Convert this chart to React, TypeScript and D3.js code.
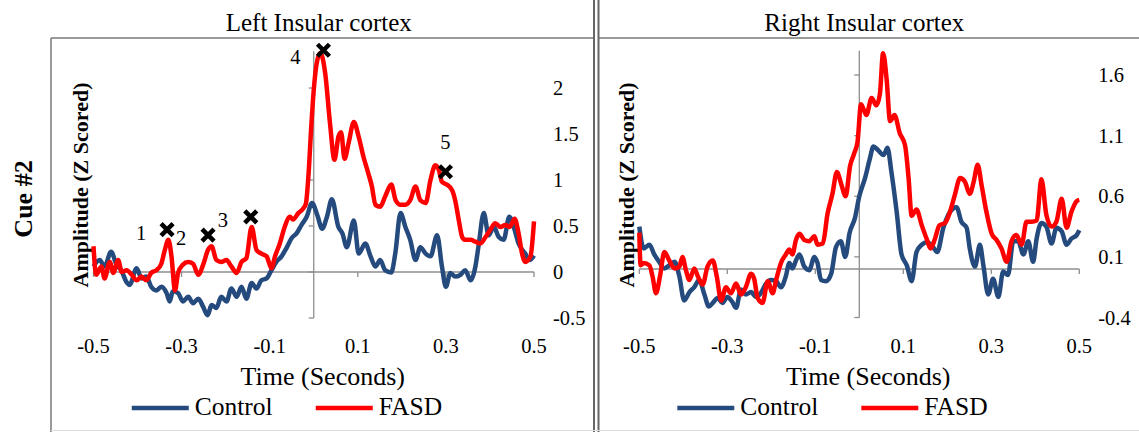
import React from 'react';
import * as d3 from 'd3';

// values: [time (s), amplitude (z)]
const timeTicks = [-0.5, -0.3, -0.1, 0.1, 0.3, 0.5];
const leftTicks = [-0.5, 0, 0.5, 1, 1.5, 2];
const rightTicks = [-0.4, 0.1, 0.6, 1.1, 1.6];
const seriesNames = ['Control', 'FASD'];

const leftControl: [number, number][] = [
  [-0.5, 0.06], [-0.486, 0.13], [-0.475, 0.06], [-0.46, 0.22], [-0.448, 0.08], [-0.437, 0.02],
  [-0.425, -0.11], [-0.418, -0.14], [-0.402, 0.04], [-0.391, -0.07], [-0.38, -0.05], [-0.369, -0.16],
  [-0.357, -0.2], [-0.346, -0.16], [-0.334, -0.23], [-0.327, -0.32], [-0.32, -0.21], [-0.308, -0.23],
  [-0.297, -0.32], [-0.285, -0.27], [-0.274, -0.34], [-0.262, -0.29], [-0.251, -0.38], [-0.241, -0.47],
  [-0.232, -0.36], [-0.221, -0.39], [-0.21, -0.27], [-0.198, -0.32], [-0.187, -0.18], [-0.175, -0.27],
  [-0.164, -0.16], [-0.153, -0.29], [-0.141, -0.12], [-0.13, -0.18], [-0.119, -0.09], [-0.107, -0.07],
  [-0.096, 0.02], [-0.085, 0.11], [-0.073, 0.17], [-0.062, 0.26], [-0.05, 0.37], [-0.039, 0.42],
  [-0.028, 0.51], [-0.016, 0.6], [-0.004, 0.75], [0.008, 0.62], [0.019, 0.47], [0.03, 0.6],
  [0.041, 0.79], [0.056, 0.49], [0.065, 0.42], [0.075, 0.27], [0.091, 0.56], [0.102, 0.2],
  [0.117, 0.31], [0.129, 0.17], [0.14, 0.06], [0.151, 0.13], [0.162, 0.02], [0.176, -0.005],
  [0.185, 0.2], [0.197, 0.64], [0.208, 0.49], [0.219, 0.35], [0.231, 0.13], [0.242, 0.27],
  [0.254, 0.2], [0.265, 0.17], [0.28, 0.4], [0.291, 0.06], [0.3, -0.16], [0.31, -0.01],
  [0.321, -0.05], [0.333, -0.03], [0.344, 0.02], [0.356, -0.09], [0.367, 0.06], [0.374, 0.28],
  [0.386, 0.64], [0.397, 0.4], [0.409, 0.49], [0.42, 0.38], [0.431, 0.35], [0.444, 0.6],
  [0.454, 0.49], [0.465, 0.31], [0.48, 0.2], [0.49, 0.13], [0.5, 0.18],
];

const leftFasd: [number, number][] = [
  [-0.5, 0.28], [-0.494, -0.03], [-0.482, 0.06], [-0.475, -0.07], [-0.463, 0.11], [-0.455, -0.01],
  [-0.444, 0.13], [-0.436, 0.0], [-0.425, 0.02], [-0.413, -0.03], [-0.402, -0.09], [-0.391, -0.05],
  [-0.38, -0.09], [-0.369, -0.01], [-0.357, 0.02], [-0.346, 0.09], [-0.338, 0.24], [-0.33, 0.35],
  [-0.323, 0.17], [-0.315, -0.2], [-0.308, -0.01], [-0.297, 0.08], [-0.285, 0.11], [-0.274, 0.09],
  [-0.262, -0.03], [-0.251, 0.08], [-0.24, 0.24], [-0.232, 0.28], [-0.221, 0.13], [-0.21, 0.11],
  [-0.198, 0.13], [-0.187, 0.06], [-0.175, -0.01], [-0.164, 0.11], [-0.153, 0.15], [-0.141, 0.49],
  [-0.13, 0.24], [-0.119, 0.2], [-0.107, 0.17], [-0.096, 0.04], [-0.088, 0.17], [-0.077, 0.31],
  [-0.066, 0.49], [-0.054, 0.6], [-0.047, 0.57], [-0.035, 0.64], [-0.024, 0.69], [-0.018, 0.74],
  [-0.012, 1.05], [-0.006, 1.55], [0.0, 1.98], [0.008, 2.3], [0.015, 2.38], [0.026, 2.16],
  [0.037, 1.61], [0.047, 1.22], [0.056, 1.47], [0.062, 1.52], [0.07, 1.23], [0.079, 1.4],
  [0.091, 1.63], [0.102, 1.47], [0.113, 1.25], [0.124, 1.07], [0.132, 0.93], [0.14, 0.73],
  [0.151, 0.71], [0.162, 0.82], [0.176, 0.95], [0.186, 0.78], [0.197, 0.73], [0.208, 0.73],
  [0.219, 0.78], [0.231, 0.93], [0.242, 0.78], [0.254, 0.75], [0.265, 1.0], [0.276, 1.16],
  [0.284, 1.11], [0.291, 0.98], [0.302, 0.95], [0.314, 0.89], [0.321, 0.78], [0.329, 0.57],
  [0.337, 0.38], [0.344, 0.35], [0.356, 0.35], [0.367, 0.33], [0.378, 0.31], [0.39, 0.38],
  [0.401, 0.46], [0.412, 0.53], [0.424, 0.49], [0.435, 0.51], [0.445, 0.49], [0.456, 0.58],
  [0.465, 0.42], [0.473, 0.2], [0.48, 0.11], [0.492, 0.17], [0.5, 0.55],
];

const rightControl: [number, number][] = [
  [-0.5, 0.35], [-0.49, 0.17], [-0.477, 0.2], [-0.466, 0.12], [-0.455, 0.06], [-0.443, 0.005],
  [-0.432, 0.03], [-0.42, 0.06], [-0.409, -0.06], [-0.398, -0.26], [-0.386, -0.19], [-0.375, -0.15],
  [-0.364, -0.09], [-0.352, -0.21], [-0.342, -0.31], [-0.333, -0.28], [-0.322, -0.24], [-0.311, -0.28],
  [-0.3, -0.23], [-0.289, -0.27], [-0.28, -0.32], [-0.269, -0.17], [-0.258, -0.21], [-0.246, -0.19],
  [-0.235, -0.23], [-0.224, -0.2], [-0.212, -0.12], [-0.201, -0.09], [-0.189, -0.1], [-0.178, -0.15],
  [-0.167, -0.06], [-0.159, 0.05], [-0.152, 0.005], [-0.144, 0.07], [-0.136, 0.12], [-0.125, 0.02],
  [-0.114, -0.01], [-0.102, 0.1], [-0.095, 0.05], [-0.087, -0.09], [-0.076, -0.1], [-0.064, -0.04],
  [-0.053, 0.18], [-0.042, 0.23], [-0.032, 0.1], [-0.022, 0.3], [-0.01, 0.42], [0.0, 0.6],
  [0.013, 0.75], [0.024, 0.91], [0.032, 1.01], [0.043, 0.98], [0.055, 0.94], [0.064, 1.0],
  [0.073, 0.8], [0.085, 0.47], [0.096, 0.12], [0.108, 0.03], [0.119, -0.1], [0.13, 0.14],
  [0.142, 0.2], [0.153, 0.22], [0.164, 0.2], [0.177, 0.14], [0.191, 0.34], [0.206, 0.47],
  [0.221, 0.51], [0.232, 0.39], [0.244, 0.34], [0.251, 0.17], [0.263, 0.02], [0.274, 0.2],
  [0.282, 0.03], [0.293, -0.21], [0.304, -0.08], [0.316, -0.23], [0.327, -0.02], [0.338, -0.05],
  [0.35, 0.23], [0.361, 0.23], [0.373, 0.12], [0.384, 0.23], [0.395, 0.06], [0.403, 0.25],
  [0.414, 0.38], [0.425, 0.35], [0.437, 0.21], [0.448, 0.34], [0.46, 0.31], [0.471, 0.2],
  [0.482, 0.25], [0.494, 0.28], [0.5, 0.32],
];

const rightFasd: [number, number][] = [
  [-0.5, 0.3], [-0.497, 0.03], [-0.49, 0.05], [-0.477, 0.03], [-0.47, -0.06], [-0.462, -0.2],
  [-0.453, -0.06], [-0.443, 0.14], [-0.432, 0.07], [-0.42, 0.005], [-0.409, 0.02], [-0.402, 0.1],
  [-0.394, -0.01], [-0.386, -0.09], [-0.375, 0.005], [-0.367, -0.06], [-0.356, -0.13], [-0.345, 0.02],
  [-0.333, 0.07], [-0.324, -0.06], [-0.314, -0.26], [-0.303, -0.15], [-0.292, -0.2], [-0.28, -0.12],
  [-0.269, -0.21], [-0.258, -0.15], [-0.246, -0.04], [-0.239, -0.08], [-0.231, -0.24], [-0.22, -0.28],
  [-0.208, -0.1], [-0.197, -0.2], [-0.189, -0.09], [-0.178, 0.05], [-0.167, 0.12], [-0.159, 0.16],
  [-0.152, 0.12], [-0.144, 0.24], [-0.136, 0.29], [-0.125, 0.24], [-0.114, 0.23], [-0.102, 0.27],
  [-0.095, 0.2], [-0.083, 0.21], [-0.072, 0.46], [-0.061, 0.62], [-0.051, 0.8], [-0.041, 0.7],
  [-0.031, 0.6], [-0.021, 0.85], [-0.012, 0.95], [-0.004, 1.05], [0.004, 1.36], [0.016, 1.27],
  [0.028, 1.41], [0.039, 1.35], [0.047, 1.45], [0.054, 1.78], [0.062, 1.57], [0.07, 1.22],
  [0.08, 1.27], [0.092, 1.12], [0.104, 1.02], [0.112, 0.75], [0.119, 0.44], [0.13, 0.49],
  [0.142, 0.36], [0.153, 0.25], [0.162, 0.17], [0.172, 0.25], [0.182, 0.36], [0.195, 0.38],
  [0.206, 0.47], [0.217, 0.61], [0.229, 0.75], [0.24, 0.72], [0.251, 0.62], [0.26, 0.72],
  [0.269, 0.86], [0.278, 0.69], [0.289, 0.47], [0.301, 0.29], [0.312, 0.24], [0.323, 0.17],
  [0.335, 0.06], [0.346, 0.23], [0.357, 0.28], [0.369, 0.2], [0.38, 0.39], [0.392, 0.39],
  [0.403, 0.4], [0.414, 0.74], [0.425, 0.45], [0.437, 0.35], [0.448, 0.39], [0.46, 0.58],
  [0.471, 0.34], [0.482, 0.47], [0.494, 0.56], [0.5, 0.57],
];

// peak markers on the left FASD trace
const markerTimes = [-0.333, -0.24, -0.143, 0.022, 0.299];
const markerValues = [0.46, 0.4, 0.6, 2.41, 1.09];
const markerLabels = ['1', '2', '3', '4', '5'];

const FONT = '"Liberation Serif", "Times New Roman", serif';
const BLUE = '#254A7D';
const RED = '#FF0000';
const AXIS = '#8E8E8E';

type Pt = [number, number];

interface PanelProps {
  x0: number;
  x1: number;
  yDomain: [number, number];
  yRange: [number, number];
  ticks: number[];
  title: string;
  control: Pt[];
  fasd: Pt[];
  withMarkers?: boolean;
}

const labelOffsets: [number, number][] = [[-26, 3], [-27, 3], [-28, 3], [-28, 7], [0, -30]];

function Panel({ x0, x1, yDomain, yRange, ticks, title, control, fasd, withMarkers }: PanelProps) {
  const x = d3.scaleLinear().domain([-0.5, 0.5]).range([x0, x1]);
  const y = d3.scaleLinear().domain(yDomain).range(yRange);
  const line = d3
    .line<Pt>()
    .x((d) => x(d[0]))
    .y((d) => y(d[1]))
    .curve(d3.curveMonotoneX);
  const cx = (x0 + x1) / 2;

  return (
    <g>
      {/* title */}
      <text x={cx + 5} y={31} textAnchor="middle" fontSize={25} fontFamily={FONT}>
        {title}
      </text>

      {/* axes */}
      <line x1={x0} x2={x1} y1={y(0)} y2={y(0)} stroke={AXIS} strokeWidth={1.3} />
      {timeTicks.map((t) => (
        <line key={t} x1={x(t)} x2={x(t)} y1={y(0)} y2={y(0) + 5} stroke={AXIS} strokeWidth={1.3} />
      ))}
      <line x1={x(0)} x2={x(0)} y1={y(yDomain[0])} y2={y(yDomain[1])} stroke={AXIS} strokeWidth={1.3} />
      {ticks.map((v) => (
        <line key={v} x1={x(0) - 5} x2={x(0)} y1={y(v)} y2={y(v)} stroke={AXIS} strokeWidth={1.3} />
      ))}

      {/* tick labels */}
      {timeTicks.map((t) => (
        <text key={t} x={x(t)} y={353} textAnchor="middle" fontSize={20.5} fontFamily={FONT}>
          {t}
        </text>
      ))}
      {ticks.map((v) => (
        <text key={v} x={x1 + 19} y={y(v)} dy="0.35em" fontSize={20.5} fontFamily={FONT}>
          {v}
        </text>
      ))}

      {/* axis titles */}
      <text x={cx + 9} y={385} textAnchor="middle" fontSize={26} fontFamily={FONT}>
        Time (Seconds)
      </text>
      <text
        transform={`translate(${x0 - 5.5},185) rotate(-90)`}
        textAnchor="middle"
        fontSize={22}
        fontWeight="bold"
        fontFamily={FONT}
      >
        Amplitude (Z Scored)
      </text>

      {/* series */}
      <path d={line(control) ?? ''} fill="none" stroke={BLUE} strokeWidth={4.5} strokeLinejoin="round" />
      <path d={line(fasd) ?? ''} fill="none" stroke={RED} strokeWidth={4.5} strokeLinejoin="round" />

      {withMarkers &&
        markerTimes.map((t, i) => {
          const mx = x(t);
          const my = y(markerValues[i]);
          const s = 6;
          return (
            <g key={i}>
              <path
                d={`M${mx - s},${my - s}L${mx + s},${my + s}M${mx - s},${my + s}L${mx + s},${my - s}`}
                stroke="#000"
                strokeWidth={4.5}
              />
              <text
                x={mx + labelOffsets[i][0]}
                y={my + labelOffsets[i][1]}
                dy="0.35em"
                textAnchor="middle"
                fontSize={20.5}
                fontFamily={FONT}
              >
                {markerLabels[i]}
              </text>
            </g>
          );
        })}

      {/* legend */}
      {seriesNames.map((name, i) => {
        const lx = cx - 182 + i * 184;
        return (
          <g key={name}>
            <line x1={lx} x2={lx + 57} y1={408} y2={408} stroke={i === 0 ? BLUE : RED} strokeWidth={4.5} />
            <text x={lx + 63} y={415} fontSize={25.5} fontFamily={FONT}>
              {name}
            </text>
          </g>
        );
      })}
    </g>
  );
}

export default function App() {
  return (
    <svg
      width={1139}
      height={432}
      style={{ position: 'absolute', left: 0, top: 0, background: '#fff' }}
    >
      {/* frame */}
      <line x1={51} x2={51} y1={38} y2={432} stroke="#777" strokeWidth={1.5} />
      <line x1={51} x2={593} y1={38} y2={38} stroke="#777" strokeWidth={1.5} />
      <line x1={598} x2={1139} y1={38} y2={38} stroke="#777" strokeWidth={1.5} />
      <line x1={594} x2={594} y1={0} y2={432} stroke="#666" strokeWidth={2} />
      <line x1={598.5} x2={598.5} y1={0} y2={432} stroke="#666" strokeWidth={2} />
      <line x1={51} x2={1139} y1={430.5} y2={430.5} stroke="#ddd" strokeWidth={1} />

      <text
        transform="translate(32,199) rotate(-90)"
        textAnchor="middle"
        fontSize={26}
        fontWeight="bold"
        fontFamily={FONT}
      >
        Cue #2
      </text>

      <Panel
        x0={93.5}
        x1={534}
        yDomain={[-0.5, 2.4]}
        yRange={[318, 51.2]}
        ticks={leftTicks}
        title="Left Insular cortex"
        control={leftControl}
        fasd={leftFasd}
        withMarkers
      />
      <Panel
        x0={639.3}
        x1={1079.3}
        yDomain={[-0.4, 1.8]}
        yRange={[317.5, 50.8]}
        ticks={rightTicks}
        title="Right Insular cortex"
        control={rightControl}
        fasd={rightFasd}
      />
    </svg>
  );
}
